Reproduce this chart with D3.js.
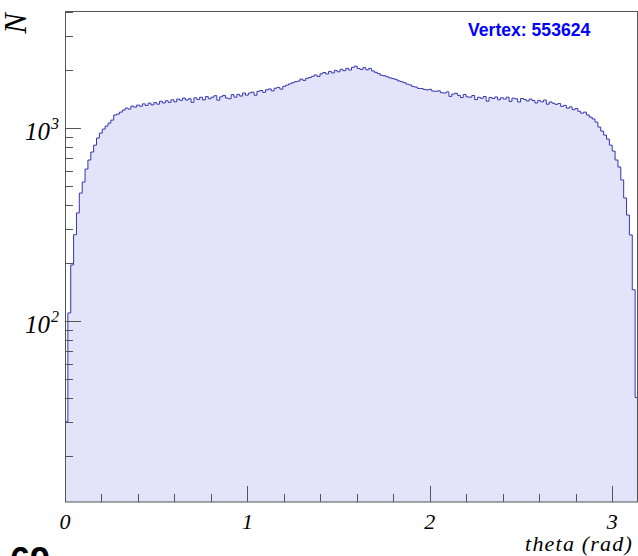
<!DOCTYPE html>
<html>
<head>
<meta charset="utf-8">
<script src="https://cdn.jsdelivr.net/npm/d3@7"></script>
<style>
  body { margin: 0; background: #fff; }
  svg { display: block; }
</style>
</head>
<body>
<div id="chart"></div>
<script>
(function () {
  'use strict';

  // data: counts per theta bin, 200 bins over [0, pi]
  var counts = [
    30, 110, 195, 280, 363, 460, 525, 613, 683, 751,
    816, 888, 942, 988, 1024, 1061, 1100, 1168, 1182, 1210,
    1240, 1269, 1255, 1300, 1285, 1316, 1298, 1335, 1310, 1348,
    1320, 1356, 1330, 1378, 1350, 1385, 1360, 1402, 1368, 1415,
    1392, 1432, 1398, 1420, 1360, 1436, 1408, 1445, 1400, 1456,
    1420, 1446, 1472, 1395, 1452, 1478, 1432, 1420, 1490, 1446,
    1496, 1466, 1520, 1482, 1520, 1536, 1480, 1552, 1566, 1532,
    1580, 1596, 1560, 1610, 1626, 1592, 1646, 1670, 1695, 1718,
    1740, 1752, 1796, 1768, 1812, 1830, 1856, 1886, 1852, 1912,
    1942, 1908, 1968, 1932, 1992, 1958, 2018, 1984, 2040, 2000,
    2066, 2095, 2036, 2014, 2058, 2004, 2040, 1978, 1946, 1916,
    1880, 1868, 1846, 1822, 1806, 1790, 1758, 1740, 1720, 1690,
    1676, 1644, 1632, 1606, 1604, 1586, 1578, 1588, 1556, 1552,
    1560, 1526, 1520, 1540, 1460, 1502, 1516, 1478, 1440, 1494,
    1452, 1446, 1476, 1405, 1444, 1428, 1458, 1380, 1442, 1424,
    1450, 1402, 1436, 1414, 1446, 1375, 1430, 1418, 1365, 1424,
    1408, 1382, 1414, 1390, 1350, 1392, 1368, 1398, 1330, 1366,
    1346, 1328, 1340, 1296, 1312, 1268, 1288, 1246, 1264, 1222,
    1195, 1210, 1170, 1140, 1115, 1074, 1012, 965, 920, 877,
    816, 760, 683, 628, 538, 434, 354, 279, 145, 40
  ];
  var thetaRange = [0, Math.PI];
  var yRange = [11.5, 4000];

  var xMajor = [0, 1, 2, 3];
  var xMinor = [0.2, 0.4, 0.6, 0.8, 1.2, 1.4, 1.6, 1.8, 2.2, 2.4, 2.6, 2.8];
  var yMajor = [100, 1000];
  var yMajorExp = ['2', '3'];
  var yMinor = [20, 30, 40, 50, 60, 70, 80, 90, 200, 300, 400, 500, 600, 700, 800, 900, 2000, 3000, 4000];

  var xTitle = 'theta (rad)';
  var yTitle = 'N';
  var statsText = 'Vertex: 553624';
  var cornerText = '69';

  var W = 638, H = 556;
  var left = 65, right = 638, top = 12, bottom = 502;

  var svg = d3.select('#chart').append('svg')
    .attr('width', W)
    .attr('height', H);

  var x = d3.scaleLinear().domain(thetaRange).range([left, right]);
  var y = d3.scaleLog().domain(yRange).range([bottom, top]);

  var nb = counts.length,
      bw = (thetaRange[1] - thetaRange[0]) / nb;

  // step outline points
  var pts = [];
  counts.forEach(function (c, i) {
    pts.push([x(thetaRange[0] + i * bw), y(c)]);
    pts.push([x(thetaRange[0] + (i + 1) * bw), y(c)]);
  });

  var area = [[pts[0][0], bottom]].concat(pts, [[pts[pts.length - 1][0], bottom]]);

  svg.append('path')
    .attr('d', d3.line()(area) + 'Z')
    .style('fill', '#e3e3fa')
    .style('stroke', 'none');

  svg.append('path')
    .attr('d', d3.line()(pts))
    .style('fill', 'none')
    .style('stroke', '#3636b0')
    .style('stroke-width', 1);

  // axes, ticks pointing inside the frame
  var axisColor = '#555';

  svg.append('g')
    .attr('transform', 'translate(0,' + bottom + ')')
    .call(d3.axisTop(x).tickValues(xMajor).tickSize(16).tickFormat(''))
    .call(function (g) { g.select('.domain').remove(); });
  svg.append('g')
    .attr('transform', 'translate(0,' + bottom + ')')
    .call(d3.axisTop(x).tickValues(xMinor).tickSize(8).tickFormat(''))
    .call(function (g) { g.select('.domain').remove(); });

  svg.append('g')
    .attr('transform', 'translate(' + left + ',0)')
    .call(d3.axisRight(y).tickValues(yMajor).tickSize(16).tickFormat(''))
    .call(function (g) { g.select('.domain').remove(); });
  svg.append('g')
    .attr('transform', 'translate(' + left + ',0)')
    .call(d3.axisRight(y).tickValues(yMinor).tickSize(8).tickFormat(''))
    .call(function (g) { g.select('.domain').remove(); });

  svg.selectAll('.tick line')
    .style('stroke', axisColor)
    .attr('shape-rendering', 'crispEdges');

  // frame
  svg.append('rect')
    .attr('x', left + 0.5)
    .attr('y', top - 0.5)
    .attr('width', W - 1 - left)
    .attr('height', bottom - top + 0.5)
    .style('fill', 'none')
    .style('stroke', axisColor)
    .style('stroke-width', 1);

  // tick labels
  var serif = '"Liberation Serif", "DejaVu Serif", serif';

  svg.selectAll('.xlab')
    .data(xMajor)
    .enter()
    .append('text')
    .attr('class', 'xlab')
    .attr('x', function (d) { return x(d); })
    .attr('y', 529)
    .attr('text-anchor', 'middle')
    .style('font-family', serif)
    .style('font-style', 'italic')
    .style('font-size', '22px')
    .text(function (d) { return d; });

  var ylab = svg.selectAll('.ylab')
    .data(yMajor)
    .enter()
    .append('g')
    .attr('class', 'ylab');

  ylab.append('text')
    .attr('x', 50)
    .attr('y', function (d) { return y(d) + 12; })
    .attr('text-anchor', 'end')
    .style('font-family', serif)
    .style('font-style', 'italic')
    .style('font-size', '25px')
    .text('10');

  ylab.append('text')
    .attr('x', 51)
    .attr('y', function (d) { return y(d) + 1; })
    .style('font-family', serif)
    .style('font-style', 'italic')
    .style('font-size', '16px')
    .text(function (d, i) { return yMajorExp[i]; });

  // axis titles
  svg.append('text')
    .attr('x', 633)
    .attr('y', 551)
    .attr('text-anchor', 'end')
    .style('font-family', serif)
    .style('font-style', 'italic')
    .style('font-size', '22px')
    .style('letter-spacing', '1.2px')
    .text(xTitle);

  svg.append('text')
    .attr('transform', 'translate(26,13) rotate(-90)')
    .attr('text-anchor', 'end')
    .style('font-family', serif)
    .style('font-style', 'italic')
    .style('font-size', '31px')
    .text(yTitle);

  // stats box text
  svg.append('text')
    .attr('x', 468)
    .attr('y', 36)
    .style('font-family', '"Liberation Sans", Arial, sans-serif')
    .style('font-weight', 'bold')
    .style('font-size', '17.6px')
    .style('fill', '#0000ff')
    .text(statsText);

  // cut-off text at the bottom left
  svg.append('text')
    .attr('x', 10)
    .attr('y', 573)
    .style('font-family', '"Liberation Sans", Arial, sans-serif')
    .style('font-weight', 'bold')
    .style('font-size', '36px')
    .style('fill', '#000')
    .text(cornerText);

}());
</script>
</body>
</html>
